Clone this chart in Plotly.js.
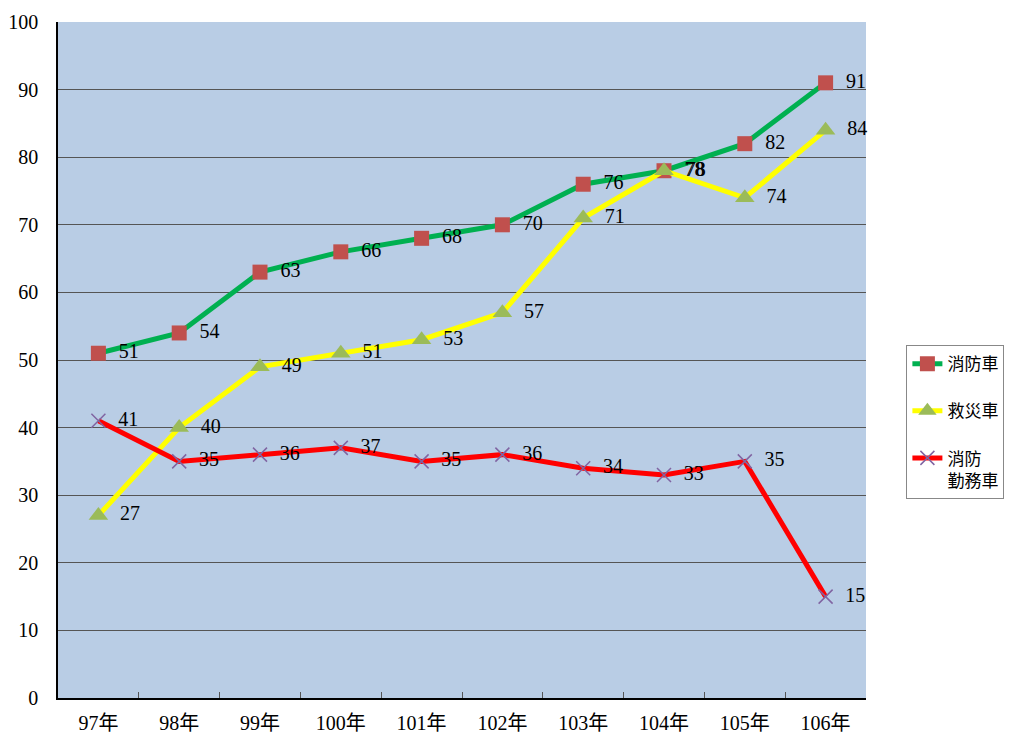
<!DOCTYPE html>
<html><head><meta charset="utf-8">
<script src="https://cdn.plot.ly/plotly-3.0.1.min.js"></script>
<style>body{margin:0;background:#fff}#c{width:1028px;height:733px}</style>
</head><body><div id="c"></div>
<script>
const categories = ['97年','98年','99年','100年','101年','102年','103年','104年','105年','106年'];
const fireTrucks = [51,54,63,66,68,70,76,78,82,91];
const rescueTrucks = [27,40,49,51,53,57,71,78,74,84];
const serviceTrucks = [41,35,36,37,35,36,34,33,35,15];
const seriesNames = ['消防車','救災車','消防<br>勤務車'];

const txtFont = {family:'"Liberation Serif","Noto Sans CJK TC",serif', size:20, color:'#000'};
function mk(name, y, lineColor, marker, grp){
  return {x:categories, y:y, name:name, type:'scatter', mode:'lines+markers+text',
    legendgroup:grp,
    line:{color:lineColor, width:5},
    marker:marker,
    text:y.map(v=>'  '+v), textposition:'middle right', textfont:txtFont, cliponaxis:false};
}
const data = [
  mk(seriesNames[0], fireTrucks, '#00B050', {symbol:'square', size:15, color:'#C0504D', line:{width:0}}, 'a'),
  mk(seriesNames[1], rescueTrucks, '#FFFF00', {symbol:'triangle-up', size:17, color:'#9BBB59', line:{width:0}}, 'b'),
  mk(seriesNames[2], serviceTrucks, '#FF0000', {symbol:'x-thin', size:14, color:'#8064A2', line:{width:1.5, color:'#8064A2'}}, 'c')
];
const layout = {
  width:1028, height:733,
  margin:{l:58, r:162, t:22, b:35},
  paper_bgcolor:'#fff', plot_bgcolor:'#B9CDE5',
  font:{family:'"Liberation Serif","Noto Sans CJK TC",serif', size:20, color:'#000'},
  showlegend:true,
  legend:{x:1.05, y:0.522, xanchor:'left', yanchor:'top', valign:'top', bgcolor:'#fff', bordercolor:'#888', borderwidth:1,
    font:{family:'"Noto Sans CJK TC",sans-serif', size:17, color:'#000'}, tracegroupgap:22},
  xaxis:{type:'category', range:[-0.5,9.5], showgrid:false, showline:true, linecolor:'#000', linewidth:1.5,
    ticks:'inside', tickson:'boundaries', ticklen:6, tickcolor:'#555', zeroline:false, ticklabelstandoff:6,
    tickfont:{family:'"Liberation Serif","Noto Sans CJK TC",serif', size:20}},
  yaxis:{range:[0,100], dtick:10, showgrid:true, gridcolor:'#555', gridwidth:1, showline:true, linecolor:'#000', linewidth:1.5,
    zeroline:false, ticks:'', ticklabelstandoff:14,
    tickfont:{family:'"Liberation Serif",serif', size:20}}
};
Plotly.newPlot('c', data, layout, {displayModeBar:false});
</script></body></html>
